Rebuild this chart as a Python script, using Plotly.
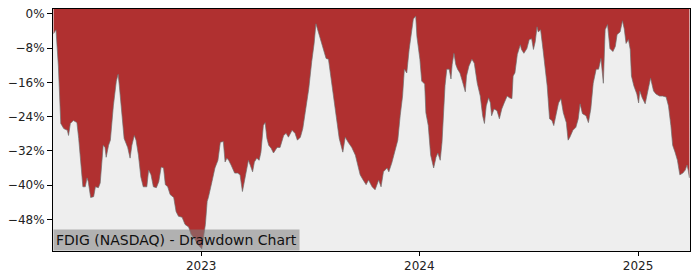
import plotly.graph_objects as go

dates = [
    "2022-04-29", "2022-05-03", "2022-05-07", "2022-05-11", "2022-05-16", "2022-05-22", "2022-05-24",
    "2022-05-27", "2022-06-01", "2022-06-07", "2022-06-10", "2022-06-14", "2022-06-17", "2022-06-21",
    "2022-06-24", "2022-06-26", "2022-06-30", "2022-07-05", "2022-07-08", "2022-07-13", "2022-07-16",
    "2022-07-21", "2022-07-24", "2022-07-26", "2022-07-30", "2022-08-02", "2022-08-05", "2022-08-07",
    "2022-08-12", "2022-08-15", "2022-08-17", "2022-08-21", "2022-08-25", "2022-08-31", "2022-09-04",
    "2022-09-07", "2022-09-11", "2022-09-14", "2022-09-18", "2022-09-22", "2022-09-26", "2022-10-02",
    "2022-10-05", "2022-10-09", "2022-10-13", "2022-10-18", "2022-10-22", "2022-10-26", "2022-10-30",
    "2022-11-02", "2022-11-06", "2022-11-10", "2022-11-16", "2022-11-20", "2022-11-24", "2022-11-30",
    "2022-12-05", "2022-12-11", "2022-12-15", "2022-12-21", "2022-12-26", "2023-01-02", "2023-01-05",
    "2023-01-08", "2023-01-11", "2023-01-13", "2023-01-19", "2023-01-24", "2023-01-29", "2023-02-02",
    "2023-02-07", "2023-02-10", "2023-02-13", "2023-02-16", "2023-02-20", "2023-02-26", "2023-03-03",
    "2023-03-07", "2023-03-11", "2023-03-14", "2023-03-17", "2023-03-21", "2023-03-24", "2023-03-28",
    "2023-03-31", "2023-04-04", "2023-04-08", "2023-04-11", "2023-04-15", "2023-04-18", "2023-04-21",
    "2023-04-24", "2023-04-28", "2023-05-02", "2023-05-08", "2023-05-13", "2023-05-19", "2023-05-23",
    "2023-05-27", "2023-06-02", "2023-06-07", "2023-06-11", "2023-06-16", "2023-06-20", "2023-06-24",
    "2023-06-30", "2023-07-05", "2023-07-09", "2023-07-12", "2023-07-16", "2023-07-20", "2023-07-25",
    "2023-07-29", "2023-08-02", "2023-08-06", "2023-08-11", "2023-08-16", "2023-08-20", "2023-08-26",
    "2023-08-30", "2023-09-04", "2023-09-10", "2023-09-16", "2023-09-19", "2023-09-24", "2023-09-29",
    "2023-10-04", "2023-10-08", "2023-10-14", "2023-10-19", "2023-10-25", "2023-10-29", "2023-11-02",
    "2023-11-08", "2023-11-11", "2023-11-16", "2023-11-22", "2023-11-26", "2023-11-30", "2023-12-04",
    "2023-12-07", "2023-12-11", "2023-12-15", "2023-12-19", "2023-12-22", "2023-12-26", "2023-12-28",
    "2024-01-02", "2024-01-05", "2024-01-10", "2024-01-12", "2024-01-16", "2024-01-20", "2024-01-25",
    "2024-01-29", "2024-02-01", "2024-02-05", "2024-02-08", "2024-02-10", "2024-02-13", "2024-02-16",
    "2024-02-20", "2024-02-23", "2024-02-25", "2024-02-28", "2024-03-02", "2024-03-05", "2024-03-09",
    "2024-03-13", "2024-03-18", "2024-03-20", "2024-03-24", "2024-03-29", "2024-04-02", "2024-04-07",
    "2024-04-12", "2024-04-16", "2024-04-19", "2024-04-22", "2024-04-26", "2024-04-29", "2024-05-01",
    "2024-05-05", "2024-05-10", "2024-05-14", "2024-05-18", "2024-05-22", "2024-05-27", "2024-05-31",
    "2024-06-04", "2024-06-06", "2024-06-09", "2024-06-13", "2024-06-18", "2024-06-20", "2024-06-24",
    "2024-06-29", "2024-07-03", "2024-07-07", "2024-07-10", "2024-07-13", "2024-07-16", "2024-07-18",
    "2024-07-22", "2024-07-26", "2024-07-29", "2024-08-02", "2024-08-06", "2024-08-10", "2024-08-13",
    "2024-08-17", "2024-08-21", "2024-08-25", "2024-08-29", "2024-09-03", "2024-09-06", "2024-09-09",
    "2024-09-14", "2024-09-19", "2024-09-23", "2024-09-26", "2024-09-30", "2024-10-06", "2024-10-10",
    "2024-10-14", "2024-10-18", "2024-10-23", "2024-10-27", "2024-10-31", "2024-11-04", "2024-11-07",
    "2024-11-11", "2024-11-15", "2024-11-20", "2024-11-24", "2024-11-27", "2024-12-02", "2024-12-06",
    "2024-12-09", "2024-12-12", "2024-12-16", "2024-12-19", "2024-12-21", "2024-12-25", "2024-12-30",
    "2025-01-02", "2025-01-04", "2025-01-08", "2025-01-13", "2025-01-18", "2025-01-22", "2025-01-27",
    "2025-01-31", "2025-02-06", "2025-02-11", "2025-02-17", "2025-02-21", "2025-02-25", "2025-02-28",
    "2025-03-04", "2025-03-08", "2025-03-12", "2025-03-17", "2025-03-21", "2025-03-24", "2025-03-26",
    "2025-03-28",
]

drawdown_pct = [
    -4.6, -3.7, -12.2, -25.6, -26.8, -27.2, -28.4,
    -25.6, -24.9, -25.4, -29.1, -34.6, -40.4, -40.4,
    -38.3, -39.2, -42.9, -42.7, -40.4, -40.6, -39.5,
    -30.7, -31.2, -33.5, -30.7, -29.5, -23.1, -21.5,
    -15.7, -14.1, -16.8, -23.1, -29.1, -31.2, -33.7,
    -30.7, -28.4, -29.5, -33.0, -38.1, -40.4, -40.4,
    -36.5, -37.6, -40.4, -40.6, -39.2, -35.8, -36.0,
    -39.9, -40.4, -42.2, -42.9, -46.2, -47.3, -47.5,
    -49.2, -49.8, -51.5, -52.6, -53.8, -54.9, -52.2,
    -49.2, -43.8, -42.9, -39.2, -36.0, -34.2, -30.0,
    -29.8, -34.6, -33.7, -34.2, -35.3, -37.2, -37.2,
    -37.6, -41.5, -39.2, -36.9, -34.2, -35.3, -36.9,
    -34.6, -33.7, -34.2, -32.3, -26.1, -25.4, -29.1,
    -30.7, -31.4, -32.5, -31.2, -31.2, -28.4, -27.9,
    -28.8, -27.2, -27.9, -29.5, -28.8, -26.8, -23.1,
    -17.5, -11.1, -6.9, -2.3, -4.2, -6.0, -8.3,
    -10.4, -10.6, -14.5, -20.3, -24.5, -29.1, -32.3,
    -28.8, -30.0, -31.2, -33.0, -34.6, -37.6, -38.8,
    -39.9, -38.8, -40.4, -41.1, -38.8, -40.4, -36.9,
    -36.0, -36.9, -34.8, -31.4, -29.5, -23.8, -19.2,
    -12.9, -13.8, -8.3, -4.6, -1.2, -0.5, -5.3,
    -10.6, -15.7, -16.4, -23.1, -26.1, -33.0, -36.0,
    -33.5, -32.5, -34.2, -30.0, -23.1, -16.8, -12.9,
    -12.9, -15.2, -11.8, -9.2, -11.8, -12.9, -13.8,
    -15.7, -18.2, -14.5, -12.2, -10.6, -11.5, -16.2,
    -19.2, -23.8, -25.6, -21.5, -19.6, -20.8, -23.8,
    -22.2, -22.6, -24.5, -22.2, -20.8, -19.2, -19.6,
    -19.8, -14.5, -13.8, -9.5, -7.2, -8.3, -9.2,
    -8.1, -6.0, -5.8, -8.3, -6.5, -3.0, -4.2,
    -3.7, -8.3, -11.8, -16.8, -24.5, -24.9, -26.1,
    -23.8, -20.8, -19.8, -23.1, -25.4, -29.5, -28.8,
    -27.2, -26.5, -24.5, -21.0, -23.3, -23.8, -25.4,
    -22.2, -16.2, -12.9, -12.9, -10.4, -16.2, -3.7,
    -2.5, -8.1, -8.8, -7.6, -4.8, -4.2, -1.6,
    -3.5, -6.9, -6.0, -8.3, -14.5, -16.8, -18.7,
    -20.8, -18.0, -19.6, -21.0, -17.3, -15.0, -18.0,
    -18.7, -19.2, -19.2, -19.4, -21.5, -26.1, -30.7,
    -32.3, -34.2, -37.6, -37.2, -36.5, -35.3, -36.5,
    -38.3,
]

y_tick_values = [0, -8, -16, -24, -32, -40, -48]
y_tick_labels = ["0%", "\u22128%", "\u221216%", "\u221224%", "\u221232%", "\u221240%", "\u221248%"]
x_tick_values = ["2023-01-01", "2024-01-01", "2025-01-01"]
x_tick_labels = ["2023", "2024", "2025"]
title_text = "FDIG (NASDAQ) - Drawdown Chart"

y_range = [-55.4, 1.15]
x_range = ["2022-04-28", "2025-03-29"]

fig = go.Figure()
# upper boundary of the red fill: the top of the axes
fig.add_trace(go.Scatter(
    x=dates,
    y=[y_range[1]] * len(dates),
    mode="lines",
    line=dict(width=0, color="rgba(0,0,0,0)"),
    hoverinfo="skip",
    showlegend=False,
))
fig.add_trace(go.Scatter(
    x=dates,
    y=drawdown_pct,
    mode="lines",
    fill="tonexty",
    fillcolor="#B03030",
    line=dict(color="rgba(110,110,110,0.85)", width=0.8),
    hoverinfo="skip",
    showlegend=False,
))

font_family = "DejaVu Sans, Arial, sans-serif"

fig.update_layout(
    width=700,
    height=280,
    margin=dict(l=53, r=10, t=7, b=28),
    paper_bgcolor="white",
    plot_bgcolor="#EEEEEE",
    font=dict(family=font_family, size=12, color="#222222"),
    showlegend=False,
)

fig.update_xaxes(
    type="date",
    range=x_range,
    tickvals=x_tick_values,
    ticktext=x_tick_labels,
    ticks="outside",
    ticklen=4,
    tickwidth=1,
    tickcolor="black",
    showline=True,
    linecolor="black",
    linewidth=1,
    mirror=True,
    showgrid=False,
    zeroline=False,
    tickfont=dict(size=12, color="#222222"),
)

fig.update_yaxes(
    range=y_range,
    tickvals=y_tick_values,
    ticktext=y_tick_labels,
    ticks="outside",
    ticklen=5,
    tickwidth=1,
    tickcolor="black",
    showline=True,
    linecolor="black",
    linewidth=1,
    mirror=True,
    showgrid=False,
    zeroline=False,
    tickfont=dict(size=12, color="#222222"),
)

fig.add_annotation(
    text=title_text,
    xref="paper", yref="paper",
    x=0, y=0,
    xanchor="left", yanchor="bottom",
    showarrow=False,
    font=dict(family=font_family, size=14, color="#111111"),
    bgcolor="rgba(128,128,128,0.55)",
    borderpad=2,
)

fig.write_html("out.html")
